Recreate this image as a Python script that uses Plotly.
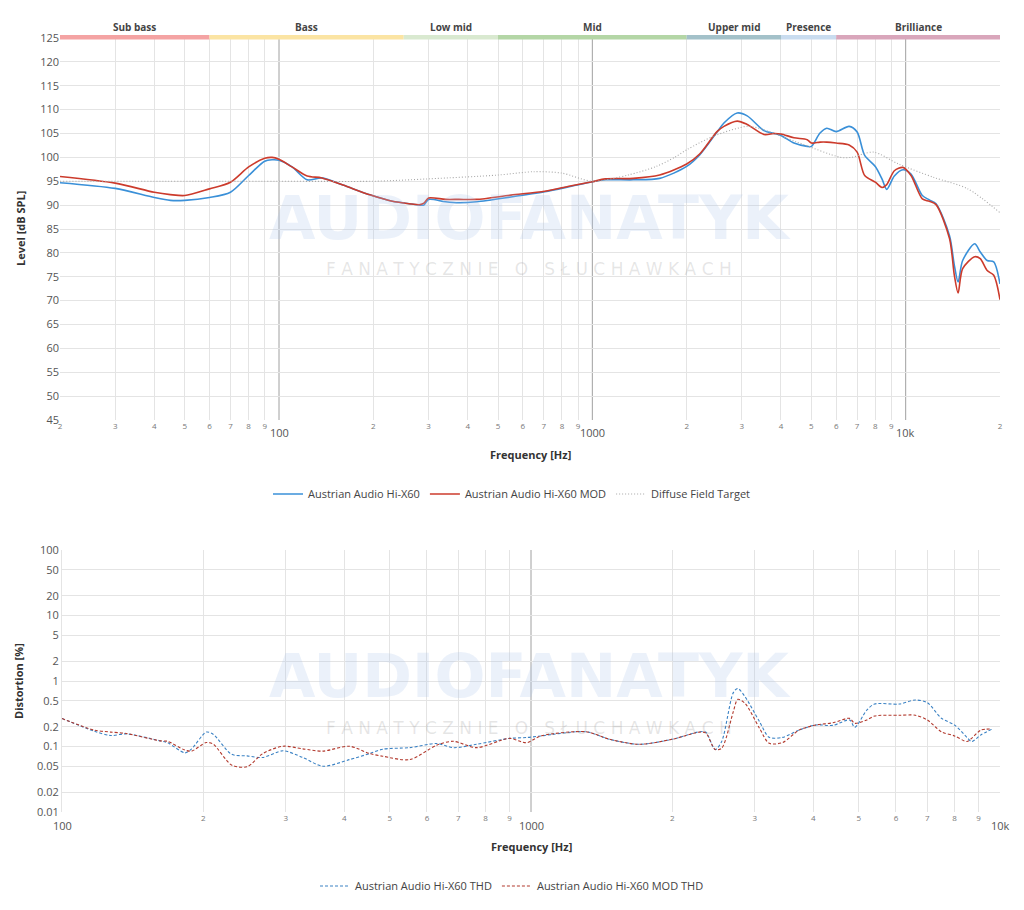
import numpy as np
import plotly.graph_objects as go

W, H = 1024, 910

# ---------------- data: frequency response ----------------
fr_freq = [20, 30, 40, 45, 50, 60, 70, 80, 90, 95, 100, 110, 123, 137, 160, 196, 230, 260,
           282, 290, 300, 340, 375, 427, 550, 705, 850, 1000, 1100, 1350, 1640, 2000, 2200,
           2500, 2630, 2900, 3120, 3530, 3800, 4000, 4400, 4850, 5000, 5330, 5600, 6000,
           6600, 7000, 7400, 8000, 8400, 8700, 9200, 9800, 10400, 11300, 11900, 12500,
           13800, 14300, 14700, 15200, 16600, 17300, 18200, 19100, 20000]
hx60 = [94.7, 93.5, 91.6, 91.0, 91.0, 91.6, 92.7, 96.2, 99.2, 99.5, 99.4, 98.0, 95.3, 95.7,
        94.2, 92.1, 90.8, 90.3, 90.0, 90.0, 91.2, 90.7, 90.5, 90.7, 91.7, 92.8, 93.9, 94.9,
        95.3, 95.3, 95.6, 98.1, 100.5, 105.3, 107.2, 109.3, 108.7, 105.6, 105.0, 104.6,
        103.0, 102.3, 102.3, 105.1, 106.1, 105.4, 106.5, 105.3, 100.4, 98.1, 95.5, 93.3,
        96.1, 97.4, 96.5, 92.0, 91.1, 90.3, 83.6, 77.4, 73.9, 78.4, 81.9, 80.2, 78.4, 78.1,
        73.5]
hx60_mod = [96.0, 94.6, 92.7, 92.2, 92.0, 93.4, 94.8, 98.0, 99.8, 100.0, 99.6, 98.0, 96.1,
            95.7, 94.2, 92.1, 90.8, 90.3, 90.1, 90.4, 91.5, 91.2, 91.2, 91.2, 92.1, 92.9,
            94.0, 94.9, 95.5, 95.6, 96.3, 98.6, 100.7, 105.4, 106.5, 107.6, 106.9, 104.8,
            105.0, 104.9, 104.1, 103.7, 103.0, 103.2, 103.2, 103.0, 102.6, 101.1, 96.2, 94.8,
            93.7, 94.3, 97.2, 97.9, 96.2, 91.3, 90.8, 90.1, 83.0, 75.3, 71.6, 76.7, 79.2,
            78.8, 76.3, 75.3, 70.2]
target_freq = [20, 100, 200, 300, 500, 650, 800, 1000, 1300, 1600, 1830, 2000, 2470, 3120,
               3400, 4500, 6200, 6700, 7900, 9500, 12300, 15800, 20000]
target = [95.0, 95.0, 95.0, 95.5, 96.3, 97.0, 96.7, 95.0, 96.3, 98.1, 100.0, 101.6, 104.6,
          106.5, 106.1, 103.2, 100.0, 100.0, 101.1, 98.6, 95.8, 93.4, 88.4]

# ---------------- data: distortion ----------------
thd_freq = [100, 117, 127, 137, 162, 168, 183, 189, 203, 210, 230, 248, 268, 296, 326, 360,
            410, 453, 483, 551, 630, 683, 765, 900, 978, 1050, 1310, 1470, 1700, 2000, 2290,
            2360, 2470, 2550, 2700, 2760, 2860, 3070, 3220, 3440, 3730, 4050, 4400, 4780,
            4900, 5200, 5400, 6100, 6600, 7000, 7500, 8000, 8500, 8700, 9100, 9600]
thd_hx60 = [0.268, 0.172, 0.147, 0.156, 0.122, 0.114, 0.080, 0.092, 0.166, 0.154, 0.076,
            0.072, 0.068, 0.086, 0.068, 0.050, 0.063, 0.078, 0.091, 0.096, 0.111, 0.096,
            0.108, 0.133, 0.137, 0.145, 0.168, 0.129, 0.108, 0.129, 0.168, 0.165, 0.090,
            0.119, 0.664, 0.77, 0.576, 0.24, 0.138, 0.138, 0.178, 0.213, 0.21, 0.254, 0.196,
            0.36, 0.445, 0.445, 0.513, 0.467, 0.27, 0.213, 0.138, 0.119, 0.15, 0.183]
thd_hx60_mod = [0.268, 0.178, 0.166, 0.158, 0.122, 0.120, 0.088, 0.085, 0.115, 0.109, 0.052,
                0.049, 0.078, 0.101, 0.092, 0.085, 0.101, 0.078, 0.071, 0.063, 0.105, 0.120,
                0.096, 0.133, 0.114, 0.145, 0.168, 0.129, 0.108, 0.129, 0.166, 0.160, 0.090,
                0.094, 0.34, 0.525, 0.456, 0.19, 0.112, 0.115, 0.178, 0.213, 0.23, 0.269,
                0.226, 0.254, 0.292, 0.30, 0.30, 0.254, 0.168, 0.145, 0.119, 0.133, 0.178,
                0.185]

# ---------------- bands ----------------
band_names = ["Sub bass", "Bass", "Low mid", "Mid", "Upper mid", "Presence", "Brilliance"]
band_edges = [20, 60, 250, 500, 2000, 4000, 6000, 20000]
band_colors = ["#f4a3a3", "#fbe4a3", "#d9e9d0", "#b4d6a6", "#a3c1c9", "#c9dcef", "#d9a6bb"]

# ---------------- ticks ----------------
top_minor = [20, 30, 40, 50, 60, 70, 80, 90, 200, 300, 400, 500, 600, 700, 800, 900,
             2000, 3000, 4000, 5000, 6000, 7000, 8000, 9000, 20000]
top_minor_text = ["2", "3", "4", "5", "6", "7", "8", "9", "2", "3", "4", "5", "6", "7", "8", "9",
                  "2", "3", "4", "5", "6", "7", "8", "9", "2"]
top_major = [100, 1000, 10000]
top_major_text = ["100", "1000", "10k"]
bot_minor = [100, 200, 300, 400, 500, 600, 700, 800, 900, 2000, 3000, 4000, 5000, 6000,
             7000, 8000, 9000, 10000]
bot_minor_text = ["", "2", "3", "4", "5", "6", "7", "8", "9", "2", "3", "4", "5", "6", "7",
                  "8", "9", ""]
bot_major = [100, 1000, 10000]
bot_major_text = ["100", "1000", "10k"]
dist_ticks = [0.01, 0.02, 0.05, 0.1, 0.2, 0.5, 1, 2, 5, 10, 20, 50, 100]
dist_text = ["0.01", "0.02", "0.05", "0.1", "0.2", "0.5", "1", "2", "5", "10", "20", "50", "100"]


def py(p):
    return 1 - p / H


FONT = "Open Sans"
BLUE = "#3a90d8"
RED = "#cc3b2c"

fig = go.Figure()
fig.add_trace(go.Scatter(x=fr_freq, y=hx60, mode="lines", name="Austrian Audio Hi-X60",
                         line=dict(color=BLUE, width=1.6, shape="spline", smoothing=0.8),
                         xaxis="x", yaxis="y", legend="legend"))
fig.add_trace(go.Scatter(x=fr_freq, y=hx60_mod, mode="lines", name="Austrian Audio Hi-X60 MOD",
                         line=dict(color=RED, width=1.6, shape="spline", smoothing=0.8),
                         xaxis="x", yaxis="y", legend="legend"))
fig.add_trace(go.Scatter(x=target_freq, y=target, mode="lines", name="Diffuse Field Target",
                         line=dict(color="#a8a8a8", width=1.1, dash="1px,2px", shape="spline",
                                   smoothing=0.8),
                         xaxis="x", yaxis="y", legend="legend"))
fig.add_trace(go.Scatter(x=thd_freq, y=thd_hx60, mode="lines", name="Austrian Audio Hi-X60 THD",
                         line=dict(color="#3b82c4", width=1.1, dash="3px,2px", shape="spline",
                                   smoothing=0.8),
                         xaxis="x2", yaxis="y2", legend="legend2"))
fig.add_trace(go.Scatter(x=thd_freq, y=thd_hx60_mod, mode="lines",
                         name="Austrian Audio Hi-X60 MOD THD",
                         line=dict(color="#b2392d", width=1.1, dash="3px,2px", shape="spline",
                                   smoothing=0.8),
                         xaxis="x2", yaxis="y2", legend="legend2"))

GRID = "#e4e4e4"
shapes = []
annotations = []


def ann(**kw):
    kw.setdefault("showarrow", False)
    kw.setdefault("xanchor", "center")
    kw.setdefault("yanchor", "middle")
    annotations.append(kw)


# band bars and labels
for i, name in enumerate(band_names):
    lo, hi = band_edges[i], band_edges[i + 1]
    shapes.append(dict(type="rect", xref="x", yref="paper", x0=lo, x1=hi,
                       y0=py(39.5), y1=py(35), fillcolor=band_colors[i], line_width=0,
                       layer="above"))
    ann(text="<b>" + name + "</b>", x=np.log10(np.sqrt(lo * hi)), xref="x",
        y=py(27), yref="paper", font=dict(family=FONT, size=10, color="#444"))

# dark decade gridlines
for v in top_major:
    shapes.append(dict(type="line", xref="x", yref="paper", x0=v, x1=v, y0=py(420), y1=py(38),
                       line=dict(color="#a0a0a0", width=1), layer="below"))
shapes.append(dict(type="line", xref="x2", yref="paper", x0=1000, x1=1000, y0=py(812),
                   y1=py(550), line=dict(color="#a0a0a0", width=1), layer="below"))

# major tick labels
for v, t in zip(top_major, top_major_text):
    ann(text=t, x=np.log10(v), xref="x", y=py(432), yref="paper",
        font=dict(family=FONT, size=11, color="#555"))
for v, t in zip(bot_major, bot_major_text):
    ann(text=t, x=np.log10(v), xref="x2", y=py(825), yref="paper",
        font=dict(family=FONT, size=11, color="#555"))

# axis titles
title_font = dict(family=FONT, size=11, color="#333")
ann(text="<b>Level [dB SPL]</b>", x=20 / W, y=py(229), xref="paper", yref="paper",
    textangle=-90, font=title_font)
ann(text="<b>Frequency [Hz]</b>", x=530 / W, y=py(454), xref="paper", yref="paper",
    font=title_font)
ann(text="<b>Distortion [%]</b>", x=18 / W, y=py(681), xref="paper", yref="paper",
    textangle=-90, font=title_font)
ann(text="<b>Frequency [Hz]</b>", x=531 / W, y=py(846), xref="paper", yref="paper",
    font=title_font)

# watermarks
sub = "\u00a0\u00a0\u00a0".join(["\u00a0".join(list(w)) for w in
                                  ["FANATYCZNIE", "O", "SŁUCHAWKACH"]])
for cy_main, cy_sub in [(218, 269), (676, 728)]:
    ann(text="<b>AUDIOFANATYK</b>", x=530 / W, y=py(cy_main), xref="paper", yref="paper",
        font=dict(family="DejaVu Sans", size=60, color="rgba(170,195,235,0.24)"))
    ann(text=sub, x=529 / W, y=py(cy_sub), xref="paper", yref="paper",
        font=dict(family="DejaVu Sans", size=17, color="rgba(140,140,140,0.22)"))

tickf_small = dict(family=FONT, size=8, color="#777")
tickf_y = dict(family=FONT, size=11, color="#555")

fig.update_layout(
    width=W, height=H,
    margin=dict(l=0, r=0, t=0, b=0, autoexpand=False),
    paper_bgcolor="white", plot_bgcolor="white",
    font=dict(family=FONT, color="#444"),
    showlegend=True,
    xaxis=dict(domain=[60 / W, 1000 / W], type="log",
               range=[np.log10(20), np.log10(20000)], anchor="y", automargin=False,
               tickmode="array", tickvals=top_minor, ticktext=top_minor_text,
               tickfont=tickf_small, showgrid=True, gridcolor=GRID, gridwidth=1,
               zeroline=False, showline=False, ticks=""),
    yaxis=dict(domain=[py(420), py(38)], range=[45, 125], dtick=5, tick0=45, anchor="x",
               automargin=False,
               tickfont=tickf_y, showgrid=True, gridcolor=GRID, zeroline=False,
               showline=False, ticks=""),
    xaxis2=dict(domain=[62 / W, 1000 / W], type="log", range=[2, 4], anchor="y2",
                automargin=False,
                tickmode="array", tickvals=bot_minor, ticktext=bot_minor_text,
                tickfont=tickf_small, showgrid=True, gridcolor=GRID, zeroline=False,
                showline=False, ticks=""),
    yaxis2=dict(domain=[py(812), py(550)], type="log", range=[-2, 2], anchor="x2",
                automargin=False,
                tickmode="array", tickvals=dist_ticks, ticktext=dist_text,
                tickfont=tickf_y, showgrid=True, gridcolor=GRID, zeroline=False,
                showline=True, linecolor=GRID, ticks=""),
    legend=dict(orientation="h", x=0.5, xanchor="center", y=py(494), yanchor="middle",
                font=dict(family=FONT, size=11, color="#444"), itemwidth=30,
                bgcolor="rgba(0,0,0,0)"),
    legend2=dict(orientation="h", x=0.5, xanchor="center", y=py(886), yanchor="middle",
                 font=dict(family=FONT, size=11, color="#444"), itemwidth=30,
                 bgcolor="rgba(0,0,0,0)"),
    shapes=shapes,
    annotations=annotations,
)

fig.write_html("out.html")
